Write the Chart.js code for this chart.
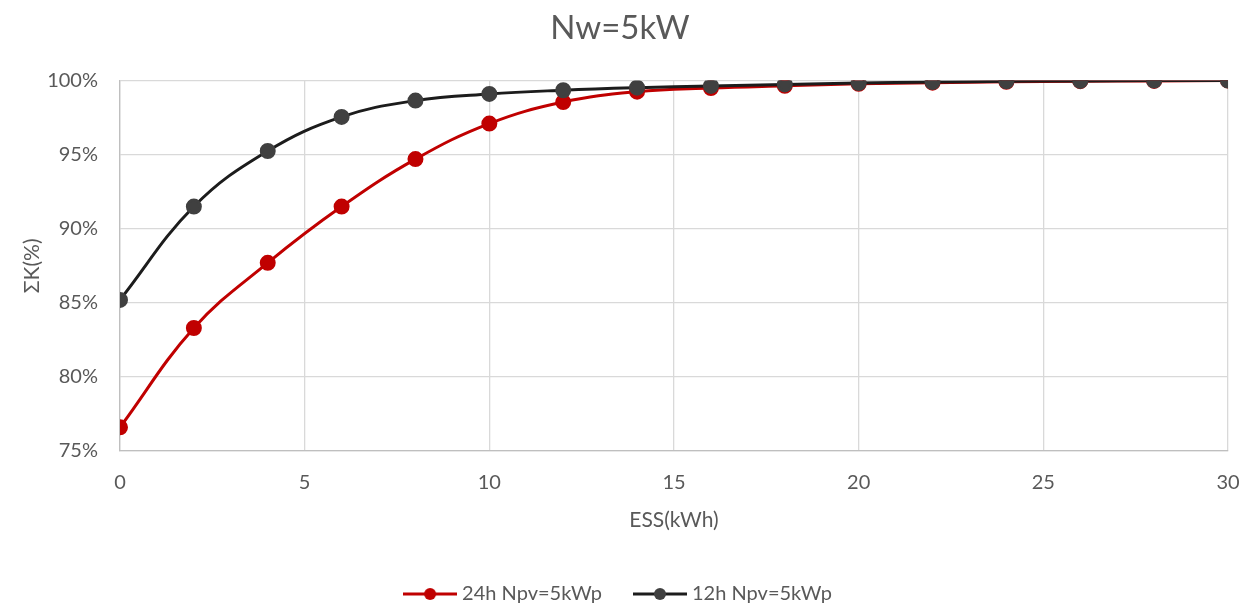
<!DOCTYPE html>
<html>
<head>
<meta charset="utf-8">
<script src="https://cdn.jsdelivr.net/npm/chart.js@4/dist/chart.umd.min.js"></script>
<style>
  html, body { margin: 0; padding: 0; background: #ffffff; }
  #wrap { width: 1253px; height: 605px; }
</style>
</head>
<body>
<div id="wrap"><canvas id="c" width="1253" height="605"></canvas></div>
<script>
// Energy storage size (kWh)
const essKWh = [0, 2, 4, 6, 8, 10, 12, 14, 16, 18, 20, 22, 24, 26, 28, 30];
// ΣK (%) for the two PV scenarios
const k24h = [76.6, 83.3, 87.7, 91.5, 94.7, 97.1, 98.55, 99.25, 99.5, 99.65, 99.78, 99.86, 99.92, 99.96, 99.98, 100];
const k12h = [85.2, 91.5, 95.25, 97.55, 98.65, 99.1, 99.35, 99.52, 99.64, 99.74, 99.84, 99.9, 99.95, 99.98, 100, 100];
const seriesNames = ['24h Npv=5kWp', '12h Npv=5kWp'];
const yTicks = [75, 80, 85, 90, 95, 100];
const xTicks = [0, 5, 10, 15, 20, 25, 30];

const FONT = 'Lato, "Open Sans", sans-serif';
const TEXT = '#595959';
const RED = '#C00000';
const DARK = '#1c1c1c';
const DARK_PT = '#404040';

// line-with-marker swatch for the legend
function legendIcon(lineColor, dotColor) {
  const cv = document.createElement('canvas');
  cv.width = 54; cv.height = 14;
  const g = cv.getContext('2d');
  g.strokeStyle = lineColor; g.lineWidth = 3;
  g.beginPath(); g.moveTo(0, 7); g.lineTo(54, 7); g.stroke();
  g.fillStyle = dotColor;
  g.beginPath(); g.arc(27, 7, 6, 0, Math.PI * 2); g.fill();
  return cv;
}

// keep the wide item spacing without the same padding above/below the legend
const compactLegend = {
  id: 'compactLegend',
  beforeLayout(chart) {
    const lg = chart.legend;
    if (lg && !lg.__compact) {
      const fit = lg.fit.bind(lg);
      lg.fit = function () { fit(); this.height = 55; };
      lg.__compact = true;
    }
  }
};

const pts = (ys) => essKWh.map((x, i) => ({ x, y: ys[i] }));

new Chart(document.getElementById('c'), {
  type: 'line',
  plugins: [compactLegend],
  data: {
    datasets: [
      {
        label: seriesNames[1],
        data: pts(k12h),
        borderColor: DARK,
        backgroundColor: DARK_PT,
        pointBackgroundColor: DARK_PT,
        pointBorderColor: DARK_PT,
        borderWidth: 3,
        pointRadius: 6.5,
        tension: 0.4,
        order: 1,
        legendIcon: legendIcon(DARK, DARK_PT),
        legendOrder: 1
      },
      {
        label: seriesNames[0],
        data: pts(k24h),
        borderColor: RED,
        backgroundColor: RED,
        pointBackgroundColor: RED,
        pointBorderColor: RED,
        borderWidth: 3,
        pointRadius: 6.5,
        tension: 0.4,
        order: 2,
        legendIcon: legendIcon(RED, RED),
        legendOrder: 0
      }
    ]
  },
  options: {
    responsive: false,
    animation: false,
    layout: { padding: { left: 12, right: 25, top: 9, bottom: 2 } },
    plugins: {
      title: {
        display: true,
        text: 'Nw=5kW',
        color: TEXT,
        font: { family: FONT, size: 33, weight: 'normal' },
        padding: { top: 0, bottom: 32 }
      },
      legend: {
        position: 'bottom',
        labels: {
          color: TEXT,
          font: { family: FONT, size: 20 },
          usePointStyle: true,
          pointStyleWidth: 44,
          boxHeight: 14,
          padding: 36,
          generateLabels(chart) {
            return chart.data.datasets
              .map((ds, i) => ({
                text: ds.label,
                pointStyle: ds.legendIcon,
                datasetIndex: i,
                fontColor: TEXT,
                lineWidth: 0,
                hidden: false,
                ord: ds.legendOrder
              }))
              .sort((a, b) => a.ord - b.ord);
          }
        }
      },
      tooltip: { enabled: false }
    },
    scales: {
      x: {
        type: 'linear',
        min: 0, max: 30,
        afterBuildTicks(s) { s.ticks = xTicks.map(v => ({ value: v })); },
        afterFit(s) { s.height = 97; s.paddingLeft = 0; s.paddingRight = 0; },
        ticks: { color: TEXT, font: { family: FONT, size: 20 }, padding: 20 },
        grid: { color: '#d9d9d9', lineWidth: 1.3, drawTicks: false },
        border: { color: '#bfbfbf', width: 1.3 },
        title: {
          display: true, text: 'ESS(kWh)', color: TEXT,
          font: { family: FONT, size: 21 }, padding: { top: 0, bottom: 15 }
        }
      },
      y: {
        min: 75, max: 100,
        afterBuildTicks(s) { s.ticks = yTicks.map(v => ({ value: v })); },
        afterFit(s) { s.width = 108; },
        ticks: {
          color: TEXT, font: { family: FONT, size: 20 }, padding: 22,
          callback: v => v + '%'
        },
        grid: { color: '#d9d9d9', lineWidth: 1.3, drawTicks: false },
        border: { color: '#bfbfbf', width: 1.3 },
        title: {
          display: true, text: 'ΣK(%)', color: TEXT,
          font: { family: FONT, size: 21 }, padding: { top: 8, bottom: 8 }
        }
      }
    }
  }
});
</script>
</body>
</html>
